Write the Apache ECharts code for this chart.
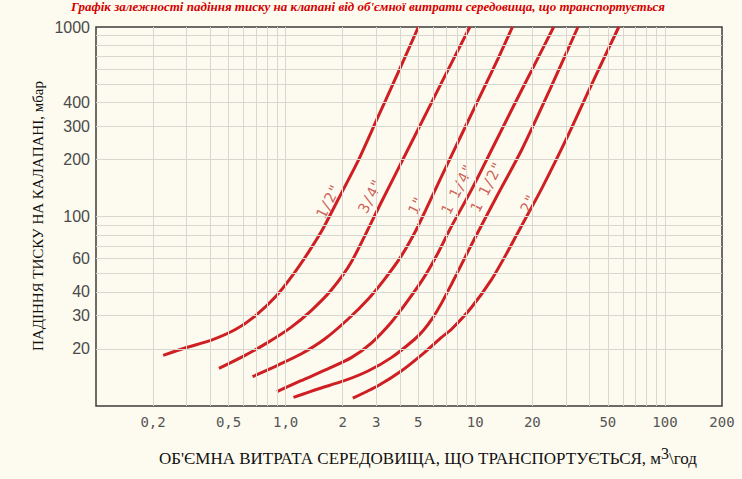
<!DOCTYPE html>
<html><head><meta charset="utf-8">
<script src="https://cdn.jsdelivr.net/npm/echarts@6/dist/echarts.min.js"></script>
<style>html,body{margin:0;padding:0;background:#fdfbef;}#c{width:742px;height:479px;}</style>
</head><body><div id="c"></div>
<script>
// Axis ticks and labels
const xTicks = [0.2, 0.5, 1, 2, 3, 5, 10, 20, 50, 100, 200];
const xTickLabels = ['0,2', '0,5', '1,0', '2', '3', '5', '10', '20', '50', '100', '200'];
const yTicks = [20, 30, 40, 60, 100, 200, 300, 400, 1000];
const xGrid = [0.2,0.3,0.4,0.5,0.6,0.7,0.8,0.9,1,2,3,4,5,6,7,8,9,10,20,30,40,50,60,70,80,90,100];
const yGrid = [20,30,40,50,60,70,80,90,100,200,300,400,500,600,700,800,900];

// Valve sizes and curves: [flow m3/h, pressure drop mbar]
const sizes = ['1/2"', '3/4"', '1"', '1 1/4"', '1 1/2"', '2"'];
const curve12 = [[0.226,18.5],[0.297,20.3],[0.403,22.2],[0.546,25.4],[0.697,30.1],[0.889,37.9],[1.107,50.1],[1.328,65.5],[1.576,86.5],[1.891,122.9],[2.413,197],[3.04,328],[3.785,532],[5.01,1000]];
const curve34 = [[0.445,15.8],[0.604,18.4],[0.803,21.6],[1.067,26.0],[1.36,31.8],[1.737,40.8],[2.216,57.3],[3.19,118.6],[4.6,245],[6.63,507],[9.36,1000]];
const curve1 = [[0.669,14.3],[0.907,16.4],[1.205,18.8],[1.6,22.5],[2.13,28.7],[2.72,36.6],[3.32,46.6],[4.07,61.8],[4.83,83.3],[5.46,107.5],[6.63,162.4],[8.46,270],[10.8,449],[13.24,687],[15.7,1000]];
const curve114 = [[0.9,11.9],[1.205,13.6],[1.67,15.7],[2.22,18.0],[2.83,21.5],[3.61,27.7],[4.42,36.1],[5.41,48.3],[6.37,64.4],[7.34,85.4],[9.56,138.7],[12.2,225],[15.56,366],[19.9,594],[25.9,1000]];
const curve112 = [[1.10,11.1],[1.48,12.3],[2.04,13.6],[2.72,15.3],[3.61,18.0],[4.79,22.5],[5.33,25.1],[5.94,29.0],[6.63,34.8],[7.49,43.9],[8.46,55.9],[9.8,74.7],[12.97,127.4],[17.58,225],[24.7,466],[34.8,1000]];
const curve2 = [[2.26,11.0],[3.07,12.8],[4.07,15.3],[5.41,19.2],[6.63,23.0],[7.49,25.4],[9.56,33.2],[12.2,46.6],[14.64,63.9],[17.58,89.7],[22.4,140.4],[30.4,260],[41.2,501],[57.1,1000]];
const curves = [curve12, curve34, curve1, curve114, curve112, curve2];
const labelPos = [[1.68,120],[2.80,128],[4.89,114],[8.06,139],[11.5,143],[19.1,117]];

const RED = '#cf1f23';
const chart = echarts.init(document.getElementById('c'), null, {renderer: 'svg'});

const series = [{
  type: 'line', data: [], z: 1, silent: true,
  markLine: {
    silent: true, symbol: ['none', 'none'], animation: false,
    label: {show: false},
    lineStyle: {color: '#d9d8d0', width: 1, type: 'solid'},
    emphasis: {disabled: true},
    data: xGrid.map(v => ({xAxis: v})).concat(yGrid.map(v => ({yAxis: v})))
  }
}];
curves.forEach((c, i) => {
  series.push({
    name: sizes[i], type: 'line', data: c, smooth: 0.25, showSymbol: false, z: 3,
    lineStyle: {color: RED, width: 3}, silent: true
  });
});
series.push({
  type: 'scatter', symbolSize: 0, z: 4, silent: true,
  data: labelPos.map((p, i) => [p[0], p[1], sizes[i]]),
  label: {
    show: true, position: 'inside', rotate: 63,
    formatter: p => p.value[2],
    color: '#c43a35', fontFamily: 'DejaVu Sans Mono', fontSize: 15
  }
});

chart.setOption({
  animation: false,
  backgroundColor: '#fdfbef',
  grid: {left: 96, right: 20, top: 27, bottom: 73, show: true, borderColor: '#3c3c3c', borderWidth: 1.5, backgroundColor: 'transparent'},
  xAxis: {
    type: 'log', logBase: 10, min: 0.1, max: 200,
    axisLine: {show: false}, axisTick: {show: false}, splitLine: {show: false},
    axisLabel: {
      customValues: xTicks, margin: 9,
      formatter: v => { const i = xTicks.findIndex(t => Math.abs(t - v) / t < 1e-6); return i >= 0 ? xTickLabels[i] : ''; },
      fontFamily: 'DejaVu Sans Mono', fontSize: 14, color: '#555'
    }
  },
  yAxis: {
    type: 'log', logBase: 10, min: 10, max: 1000,
    axisLine: {show: false}, axisTick: {show: false}, splitLine: {show: false},
    axisLabel: {
      customValues: yTicks, margin: 6,
      formatter: v => String(Math.round(v)),
      fontFamily: 'Liberation Sans', fontSize: 16, color: '#4a4a4a'
    }
  },
  graphic: [
    {type: 'text', x: 368, y: 0, silent: true, style: {
      text: "Графік залежності падіння тиску на клапані від об'ємної витрати середовища, що транспортується",
      align: 'center', verticalAlign: 'top', fill: '#d40000',
      font: 'italic bold 13px "Liberation Serif"'}},
    {type: 'text', x: 38, y: 216, rotation: Math.PI / 2, silent: true, style: {
      text: 'ПАДІННЯ ТИСКУ НА КАЛАПАНІ, мбар', align: 'center', verticalAlign: 'middle',
      fill: '#111', font: '15px "Liberation Serif"'}},
    {type: 'text', x: 428, y: 456, silent: true, style: {
      text: "{a|ОБ'ЄМНА ВИТРАТА СЕРЕДОВИЩА, ЩО ТРАНСПОРТУЄТЬСЯ, м}{s|3}{a|\\год}",
      align: 'center', verticalAlign: 'middle',
      rich: {
        a: {fontFamily: 'Liberation Serif', fontSize: 17, fill: '#111', color: '#111', lineHeight: 22, verticalAlign: 'bottom'},
        s: {fontFamily: 'Liberation Serif', fontSize: 16, fill: '#111', color: '#111', lineHeight: 22, verticalAlign: 'top'}
      }}}
  ],
  series: series
});
</script></body></html>
